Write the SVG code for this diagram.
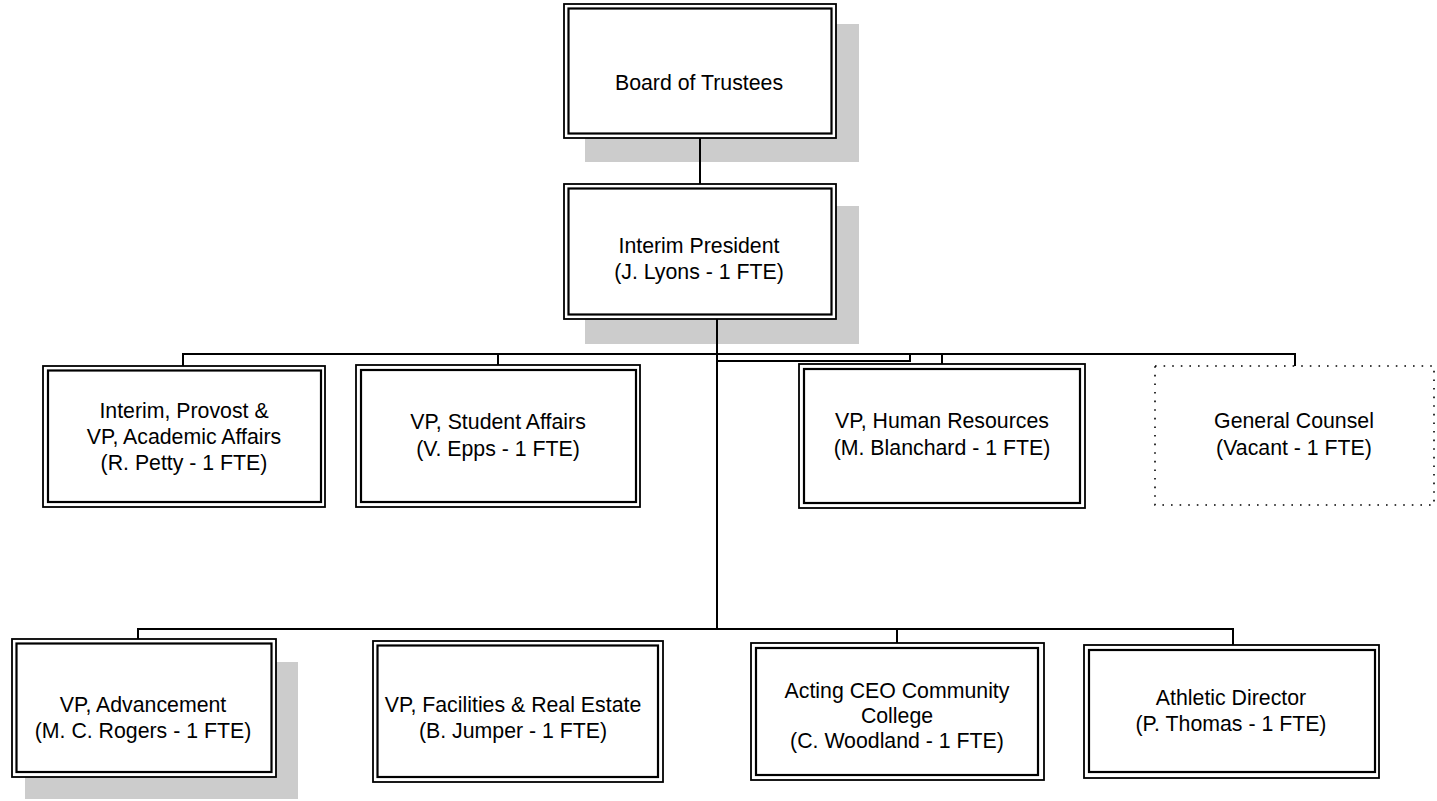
<svg xmlns="http://www.w3.org/2000/svg" width="1437" height="801" viewBox="0 0 1437 801">
<style>
.bg{fill:#ffffff}
.sh{fill:#cccccc}
.o{fill:#ffffff;stroke:#000;stroke-width:1.8}
.i{fill:none;stroke:#000;stroke-width:2.2}
.d{fill:#ffffff;stroke:#000;stroke-width:1.6;stroke-dasharray:1.6 7}
.c{fill:none;stroke:#000;stroke-width:2}
text{font-family:"Liberation Sans",Arial,sans-serif;font-size:21.3px;fill:#000;text-anchor:middle}
</style>
<rect class="bg" x="0" y="0" width="1437" height="801"/>
<g id="board">
<rect class="sh" x="585" y="24" width="274" height="138"/>
<rect class="o" x="564" y="4" width="272" height="134"/>
<rect class="i" x="568.5" y="8.5" width="263" height="125"/>
<text x="699" y="90">Board of Trustees</text>
</g>
<g id="president">
<rect class="sh" x="585" y="206" width="274" height="138"/>
<rect class="o" x="564" y="184" width="272" height="135"/>
<rect class="i" x="568.5" y="188.5" width="263" height="126"/>
<text x="699" y="253">Interim President</text>
<text x="699" y="279">(J. Lyons - 1 FTE)</text>
</g>
<g id="connectors">
<path class="c" d="M700 138V184"/>
<path class="c" d="M717 319V629"/>
<path class="c" d="M183 366V354H1295V366"/>
<path class="c" d="M498 354V365"/>
<path class="c" d="M942 354V364"/>
<path class="c" d="M717 361H910V354"/>
<path class="c" d="M138 639V629H1233V645"/>
<path class="c" d="M897 629V643"/>
</g>
<g id="provost">
<rect class="o" x="43" y="366" width="282" height="141"/>
<rect class="i" x="48" y="370.5" width="273" height="131.5"/>
<text x="184" y="418">Interim, Provost &amp;</text>
<text x="184" y="444">VP, Academic Affairs</text>
<text x="184" y="470">(R. Petty - 1 FTE)</text>
</g>
<g id="student-affairs">
<rect class="o" x="356" y="365" width="284" height="142"/>
<rect class="i" x="361" y="370" width="275" height="132"/>
<text x="498" y="429">VP, Student Affairs</text>
<text x="498" y="456">(V. Epps - 1 FTE)</text>
</g>
<g id="human-resources">
<rect class="o" x="799" y="364" width="286" height="144"/>
<rect class="i" x="804" y="369" width="276" height="134"/>
<text x="942" y="428">VP, Human Resources</text>
<text x="942" y="455">(M. Blanchard - 1 FTE)</text>
</g>
<g id="general-counsel">
<rect class="d" x="1155" y="366" width="279" height="139"/>
<text x="1294" y="428">General Counsel</text>
<text x="1294" y="455">(Vacant - 1 FTE)</text>
</g>
<g id="advancement">
<rect class="sh" x="25" y="662" width="273" height="137"/>
<rect class="o" x="12" y="639" width="264" height="138"/>
<rect class="i" x="16.5" y="643.5" width="255" height="128.5"/>
<text x="143" y="712">VP, Advancement</text>
<text x="143" y="738">(M. C. Rogers - 1 FTE)</text>
</g>
<g id="facilities">
<rect class="o" x="373" y="641" width="290" height="141"/>
<rect class="i" x="377.5" y="645.5" width="280.5" height="131.5"/>
<text x="513" y="712">VP, Facilities &amp; Real Estate</text>
<text x="513" y="738">(B. Jumper - 1 FTE)</text>
</g>
<g id="ceo-community-college">
<rect class="o" x="751" y="643" width="293" height="137"/>
<rect class="i" x="756" y="648" width="282" height="127"/>
<text x="897" y="698">Acting CEO Community</text>
<text x="897" y="723">College</text>
<text x="897" y="748">(C. Woodland - 1 FTE)</text>
</g>
<g id="athletic-director">
<rect class="o" x="1084" y="645" width="295" height="133"/>
<rect class="i" x="1089" y="650" width="286" height="122"/>
<text x="1231" y="705">Athletic Director</text>
<text x="1231" y="731">(P. Thomas - 1 FTE)</text>
</g>
</svg>
